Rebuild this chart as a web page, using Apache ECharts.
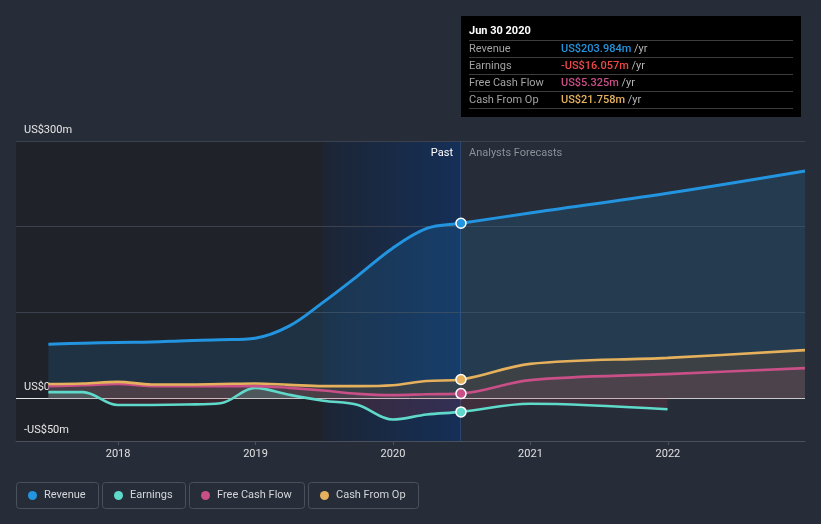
<!DOCTYPE html>
<html><head><meta charset="utf-8">
<script src="https://cdn.jsdelivr.net/npm/echarts@6/dist/echarts.min.js"></script>
<style>html,body{margin:0;padding:0;background:#262c38;}#c{width:821px;height:524px;}</style>
</head><body><div id="c"></div>
<script>
// ---- data ----
const dates = ['2017-06-30','2017-09-30','2017-12-31','2018-03-31','2018-06-30','2018-09-30','2018-12-31','2019-03-31','2019-06-30','2019-09-30','2019-12-31','2020-03-31','2020-06-30','2020-12-31','2021-12-31','2022-12-31'];
const revenue      = [63, 64, 65, 65.5, 67, 68, 70, 84, 112, 143, 175, 198, 203.984, 216, 239, 265];
const earnings     = [7, 7, -8, -8, -7.5, -6, 12, 4, -3, -8, -25, -19, -16.057, -6.5, -13, null];
const freeCashFlow = [14, 15, 16.5, 14, 14, 14, 14, 12, 9, 5, 3.5, 4.5, 5.325, 21, 28, 35];
const cashFromOp   = [16.5, 17, 19, 16, 16, 16.5, 17, 15.5, 14, 14, 15, 20, 21.758, 40, 47, 56];
const seriesNames = ['Revenue', 'Earnings', 'Free Cash Flow', 'Cash From Op'];
const yearTicks = [2018, 2019, 2020, 2021, 2022];
const yTickValues = [-50, 0, 300];
const yTickLabels = ['-US$50m', 'US$0', 'US$300m'];
const gridValues = [100, 200, 300];
const pastEnd = '2020-06-30';
const highlightStart = '2019-06-30';
const axisStart = '2017-04-05';
const tooltipTitle = 'Jun 30 2020';
const periodLabels = ['Past', 'Analysts Forecasts'];

// ---- styles ----
const colors = ['#2394df', '#5fd9c9', '#c94f87', '#e6b15d'];
const valueColors = ['#2394df', '#f04848', '#c94f87', '#e6b15d'];
const areaColors = ['rgba(35,148,223,0.15)', null, 'rgba(200,75,130,0.12)', 'rgba(75,70,62,0.6)'];
const FONT = 'Roboto, sans-serif';
const SMOOTH = 0.35;

function toYear(s) {
  const p = s.split('-').map(Number);
  const t = Date.UTC(p[0], p[1] - 1, p[2]);
  const a = Date.UTC(p[0], 0, 1), b = Date.UTC(p[0] + 1, 0, 1);
  return p[0] + (t - a) / (b - a);
}
const xs = dates.map(toYear);
const xMin = toYear(axisStart);
const xMax = xs[xs.length - 1];
const allVals = [revenue, earnings, freeCashFlow, cashFromOp];
const pastIdx = dates.indexOf(pastEnd);

function buildData(vals, i, withMarker) {
  const out = [];
  xs.forEach((x, k) => {
    if (vals[k] == null) return;
    if (withMarker && k === pastIdx) {
      out.push({value: [x, vals[k]], symbol: 'circle', symbolSize: 10,
        itemStyle: {color: colors[i], borderColor: '#ffffff', borderWidth: 1.5}});
    } else out.push([x, vals[k]]);
  });
  return out;
}

const series = [];
series.push({
  type: 'line', data: xs.map((x, k) => [x, revenue[k]]), symbol: 'none', silent: true,
  lineStyle: {opacity: 0}, z: 0,
  markArea: {silent: true, z: 0, data: [
    [{xAxis: xMin, itemStyle: {color: '#1f2229'}}, {xAxis: toYear(highlightStart)}],
    [{xAxis: toYear(highlightStart), itemStyle: {color: new echarts.graphic.LinearGradient(0, 0, 1, 0, [
      {offset: 0, color: '#1c2535'}, {offset: 1, color: '#152f57'}])}}, {xAxis: toYear(pastEnd)}]
  ]},
  markLine: {silent: true, symbol: 'none', z: 1, label: {show: false}, animation: false,
    data: gridValues.map(v => ({yAxis: v, lineStyle: {color: '#3b414e', width: 1, type: 'solid'}}))
      .concat([{yAxis: 0, lineStyle: {color: '#e8e8e8', width: 1, type: 'solid'}},
               {xAxis: toYear(pastEnd), lineStyle: {color: '#2c4670', width: 1, type: 'solid'}}])}
});
// area-only series (drawn below all lines)
[0, 3, 2].forEach((i, j) => {
  series.push({
    type: 'line', data: buildData(allVals[i], i, false), symbol: 'none', silent: true, smooth: SMOOTH,
    lineStyle: {opacity: 0, width: 0}, areaStyle: {color: areaColors[i], opacity: 1}, z: 1 + j * 0.01
  });
});
series.push({
  id: 'earnArea', type: 'line', data: buildData(earnings, 1, false),
  symbol: 'none', silent: true, smooth: SMOOTH,
  lineStyle: {opacity: 0, width: 0}, areaStyle: {color: 'rgba(200,55,75,0.16)', opacity: 1}, z: 1.05
});
// line series
allVals.forEach((vals, i) => {
  series.push({
    name: seriesNames[i], type: 'line', data: buildData(vals, i, true), symbol: 'none',
    smooth: SMOOTH, z: 3 + i * 0.01,
    lineStyle: {color: colors[i], width: i === 0 ? 3 : 2.6},
    itemStyle: {color: colors[i]}
  });
});

const fmt = v => (v < 0 ? '-' : '') + 'US$' + Math.abs(v).toFixed(3) + 'm';
const g = [];
g.push({type: 'rect', shape: {x: 461, y: 16, width: 340, height: 101}, style: {fill: '#000000'}, z: 100});
g.push({type: 'text', x: 469, y: 31, z: 101, style: {text: tooltipTitle, fill: '#ffffff', fontSize: 11, fontWeight: 'bold', fontFamily: FONT, verticalAlign: 'middle'}});
for (let r = 0; r < 5; r++) {
  g.push({type: 'line', z: 101, shape: {x1: 469, y1: 40.5 + 17 * r, x2: 793, y2: 40.5 + 17 * r}, style: {stroke: '#3d3d3d', lineWidth: 1}});
}
seriesNames.forEach((n, i) => {
  const y = 49 + 17 * i;
  g.push({type: 'text', x: 469, y: y, z: 101, style: {text: n, fill: '#a3a3a3', fontSize: 11, fontFamily: FONT, verticalAlign: 'middle'}});
  g.push({type: 'text', x: 561, y: y, z: 101, style: {
    text: '{v|' + fmt(allVals[i][pastIdx]) + '} {u|/yr}', verticalAlign: 'middle', fontFamily: FONT, fontSize: 11,
    rich: {v: {fill: valueColors[i], fontSize: 11, fontWeight: 500, fontFamily: FONT},
           u: {fill: '#b5b5b5', fontSize: 11, fontFamily: FONT}}}});
});
g.push({type: 'text', x: 453, y: 153, z: 50, style: {text: periodLabels[0], fill: '#ffffff', fontSize: 11, fontFamily: FONT, align: 'right', verticalAlign: 'middle'}});
g.push({type: 'text', x: 469, y: 153, z: 50, style: {text: periodLabels[1], fill: '#8b9099', fontSize: 11, fontFamily: FONT, align: 'left', verticalAlign: 'middle'}});

const ctx = document.createElement('canvas').getContext('2d');
ctx.font = '11px Roboto';
let lx = 16;
seriesNames.forEach((n, i) => {
  const w = Math.round(28 + ctx.measureText(n).width + 12);
  g.push({type: 'rect', z: 50, shape: {x: lx + 0.5, y: 482.5, width: w, height: 26, r: 3}, style: {fill: 'transparent', stroke: '#4a505c', lineWidth: 1}});
  g.push({type: 'circle', z: 51, shape: {cx: lx + 16.5, cy: 495.5, r: 4.5}, style: {fill: colors[i]}});
  g.push({type: 'text', z: 51, x: lx + 28, y: 495.5, style: {text: n, fill: '#d4d6da', fontSize: 11, fontFamily: FONT, verticalAlign: 'middle'}});
  lx += w + 4;
});

const chart = echarts.init(document.getElementById('c'), null, {renderer: 'canvas'});
chart.setOption({
  backgroundColor: '#262c38',
  animation: false,
  textStyle: {fontFamily: FONT},
  grid: {left: 16, right: 16, top: 141, bottom: 83, containLabel: false},
  xAxis: {
    type: 'value', min: xMin, max: xMax, scale: true,
    axisLine: {onZero: false, lineStyle: {color: '#4a505c', width: 1}},
    axisTick: {show: true, length: 4, customValues: yearTicks, lineStyle: {color: '#4a505c'}},
    axisLabel: {customValues: yearTicks, formatter: v => String(Math.round(v)), color: '#e0e0e0', fontSize: 11, margin: 8, fontFamily: FONT},
    splitLine: {show: false}
  },
  yAxis: {
    type: 'value', min: -50, max: 300, interval: 50,
    axisLine: {show: false}, axisTick: {show: false}, splitLine: {show: false},
    axisLabel: {inside: true, margin: 8, verticalAlign: 'bottom', padding: [0, 0, 5, 0], color: '#e6e6e6', fontSize: 11, fontFamily: FONT,
      formatter: v => { const k = yTickValues.indexOf(v); return k < 0 ? '' : yTickLabels[k]; }}
  },
  series: series,
  graphic: g
});
const zeroPx = chart.convertToPixel({yAxisIndex: 0}, 0);
chart.setOption({series: [{id: 'earnArea', areaStyle: {color: new echarts.graphic.LinearGradient(0, zeroPx - 0.5, 0, zeroPx + 0.5, [
  {offset: 0, color: 'rgba(95,217,201,0.16)'}, {offset: 0.5, color: 'rgba(95,217,201,0.16)'},
  {offset: 0.5, color: 'rgba(200,55,75,0.16)'}, {offset: 1, color: 'rgba(200,55,75,0.16)'}], true)}}]});
</script>
</body></html>
